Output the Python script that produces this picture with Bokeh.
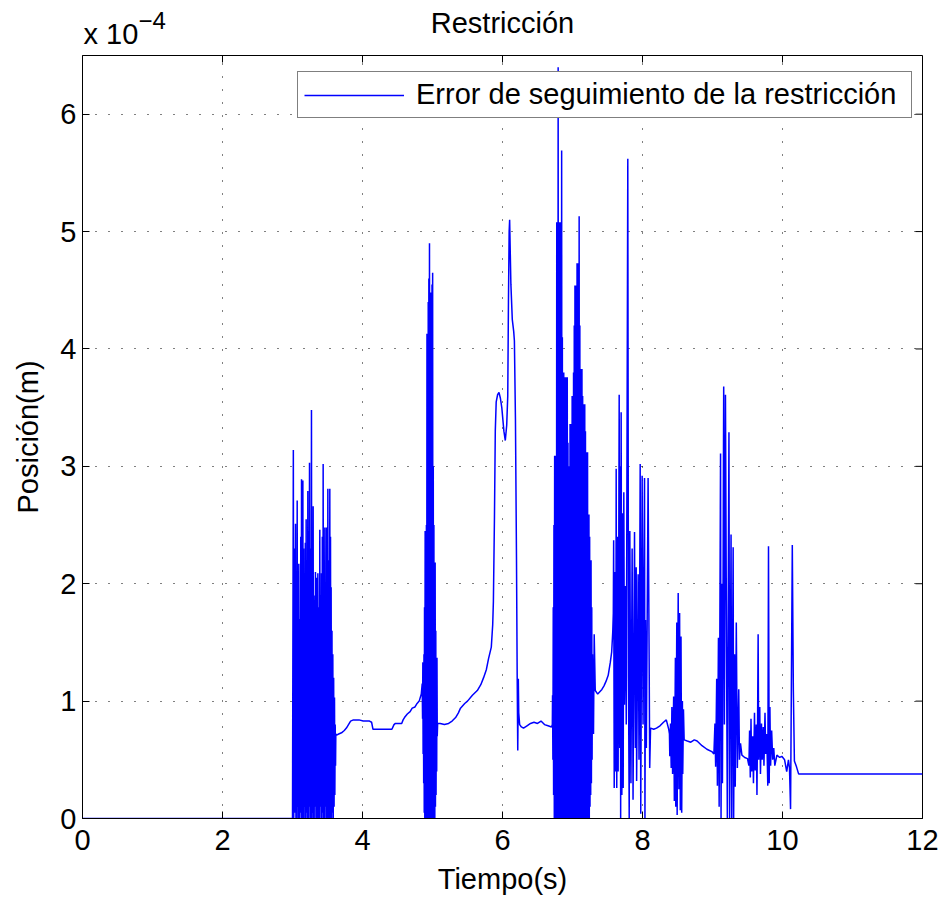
from bokeh.plotting import figure
from bokeh.layouts import column
from bokeh.models import Range1d, FixedTicker, Legend, LegendItem
from bokeh.core.properties import value
from bokeh.embed import file_html
from bokeh.resources import INLINE

FONT = "Liberation Sans"

title_text = "Restricción"
x_label = "Tiempo(s)"
y_label = "Posición(m)"
legend_label = "Error de seguimiento de la restricción"
x_ticks = [0, 2, 4, 6, 8, 10, 12]
y_ticks = [0, 1, 2, 3, 4, 5, 6]
x_limits = (0, 12)
y_limits = (0, 6.5)          # error in units of 1e-4 m
exp_base = "x 10"
exp_power = "−4"

# (time [s], tracking error [x 1e-4 m])
seg_rest = [(0.000, 0.00), (3.000, 0.00)]
burst1 = [(3.012, 3.14), (3.018, 0.00), (3.025, 2.30), (3.031, 0.05), (3.043, 2.51), (3.049, 0.00),
          (3.055, 1.90), (3.061, 0.00), (3.067, 2.71), (3.072, 0.10), (3.078, 2.00), (3.084, 0.00),
          (3.090, 2.17), (3.097, 0.00), (3.105, 1.70), (3.111, 0.05), (3.118, 2.40), (3.123, 0.00),
          (3.129, 2.89), (3.139, 0.00), (3.148, 2.88), (3.154, 0.00), (3.160, 2.30), (3.166, 0.10),
          (3.171, 2.00), (3.177, 0.00), (3.183, 2.35), (3.189, 0.00), (3.195, 2.55), (3.201, 0.05),
          (3.207, 2.20), (3.213, 0.00), (3.219, 2.79), (3.226, 0.00), (3.232, 2.45), (3.238, 0.10),
          (3.243, 3.03), (3.250, 0.00), (3.257, 2.30), (3.264, 0.00), (3.271, 3.48), (3.277, 0.00),
          (3.283, 2.20), (3.289, 0.05), (3.295, 2.66), (3.300, 0.00), (3.305, 1.90), (3.310, 0.00),
          (3.314, 1.86), (3.321, 0.10), (3.328, 2.10), (3.335, 0.00), (3.343, 2.05), (3.348, 0.00),
          (3.352, 1.70), (3.357, 0.05), (3.362, 2.09), (3.369, 0.00), (3.376, 1.80), (3.383, 0.00),
          (3.390, 2.46), (3.396, 0.10), (3.402, 1.90), (3.408, 0.00), (3.414, 2.09), (3.420, 0.00),
          (3.426, 2.40), (3.432, 0.05), (3.438, 3.02), (3.444, 0.00), (3.450, 2.20), (3.456, 0.00),
          (3.462, 2.48), (3.468, 0.10), (3.474, 2.00), (3.480, 0.00), (3.486, 2.48), (3.491, 0.00),
          (3.496, 2.10), (3.500, 0.05), (3.505, 2.81), (3.512, 0.00), (3.520, 2.20), (3.527, 0.00),
          (3.533, 2.81), (3.538, 0.10), (3.543, 2.40), (3.548, 0.00), (3.552, 1.97), (3.558, 0.00),
          (3.564, 1.60), (3.570, 0.05), (3.576, 1.40), (3.582, 0.00), (3.588, 1.20), (3.594, 0.10),
          (3.600, 1.03), (3.605, 0.20), (3.610, 0.80), (3.615, 0.45), (3.619, 0.72)]
base1 = [(3.630, 0.71), (3.660, 0.72), (3.700, 0.73), (3.740, 0.75), (3.770, 0.77), (3.800, 0.80),
         (3.830, 0.83), (3.870, 0.84), (3.950, 0.84), (4.010, 0.83), (4.100, 0.83), (4.130, 0.82),
         (4.150, 0.76), (4.250, 0.76), (4.420, 0.76), (4.450, 0.80), (4.470, 0.81), (4.560, 0.81),
         (4.580, 0.84), (4.600, 0.86), (4.640, 0.89), (4.680, 0.91), (4.710, 0.94), (4.750, 0.95),
         (4.780, 0.98), (4.810, 1.00), (4.840, 1.06)]
burst2 = [(4.853, 1.15), (4.858, 0.85), (4.862, 1.33), (4.866, 0.55), (4.870, 1.33), (4.874, 0.30),
          (4.878, 1.40), (4.882, 0.05), (4.886, 1.80), (4.890, 0.00), (4.895, 2.45), (4.899, 0.00),
          (4.904, 2.45), (4.908, 0.00), (4.913, 2.50), (4.917, 0.00), (4.921, 4.13), (4.925, 0.00),
          (4.930, 4.13), (4.934, 0.00), (4.939, 4.40), (4.943, 0.00), (4.948, 4.60), (4.952, 0.00),
          (4.957, 4.90), (4.961, 0.00), (4.966, 4.48), (4.970, 0.00), (4.975, 4.48), (4.979, 0.00),
          (4.984, 4.40), (4.988, 0.00), (4.993, 4.55), (4.997, 0.00), (5.002, 4.65), (5.006, 0.00),
          (5.011, 3.00), (5.015, 0.00), (5.020, 2.50), (5.024, 0.00), (5.029, 2.18), (5.033, 0.00),
          (5.038, 2.18), (5.042, 0.10), (5.047, 1.60), (5.051, 0.20), (5.056, 1.37), (5.060, 0.40),
          (5.064, 1.37), (5.068, 0.70), (5.073, 0.81)]
base2 = [(5.110, 0.81), (5.170, 0.80), (5.230, 0.81), (5.280, 0.83), (5.330, 0.86), (5.370, 0.90),
         (5.400, 0.94), (5.460, 0.98), (5.500, 1.00), (5.570, 1.05), (5.640, 1.09), (5.690, 1.14),
         (5.730, 1.20), (5.770, 1.27), (5.800, 1.36), (5.840, 1.46), (5.860, 1.65), (5.870, 1.85),
         (5.885, 2.56), (5.897, 3.30), (5.910, 3.55), (5.930, 3.61), (5.950, 3.63), (5.970, 3.58),
         (5.990, 3.50), (6.020, 3.30), (6.040, 3.22), (6.060, 3.35), (6.075, 3.60), (6.085, 4.40),
         (6.095, 5.00), (6.102, 5.10), (6.110, 4.85), (6.120, 4.55), (6.140, 4.25), (6.160, 4.15),
         (6.170, 4.07), (6.185, 3.40), (6.200, 2.20), (6.210, 1.20), (6.218, 0.58), (6.226, 1.19),
         (6.232, 0.90), (6.245, 0.80), (6.270, 0.78), (6.300, 0.77), (6.350, 0.79), (6.400, 0.81),
         (6.450, 0.82), (6.500, 0.81), (6.550, 0.83), (6.600, 0.80), (6.650, 0.79), (6.700, 0.78),
         (6.712, 0.80)]
burst3 = [(6.715, 1.05), (6.720, 0.50), (6.725, 1.80), (6.730, 0.20), (6.735, 2.50), (6.740, 0.00),
          (6.745, 3.09), (6.750, 0.00), (6.755, 3.09), (6.760, 0.10), (6.765, 3.09), (6.770, 0.00),
          (6.775, 5.08), (6.780, 0.00), (6.785, 5.08), (6.790, 0.00), (6.795, 6.40), (6.800, 0.00),
          (6.805, 5.08), (6.810, 0.00), (6.815, 5.08), (6.820, 0.10), (6.825, 4.60), (6.830, 0.00),
          (6.835, 5.08), (6.840, 0.00), (6.845, 5.69), (6.850, 0.00), (6.855, 4.10), (6.860, 0.00),
          (6.865, 3.80), (6.870, 0.10), (6.875, 3.80), (6.880, 0.00), (6.885, 3.76), (6.890, 0.00),
          (6.895, 3.76), (6.900, 0.00), (6.905, 3.60), (6.910, 0.05), (6.915, 3.76), (6.920, 0.00),
          (6.925, 3.76), (6.930, 0.00), (6.935, 3.20), (6.940, 0.00), (6.945, 2.79), (6.950, 0.10),
          (6.955, 3.00), (6.960, 0.00), (6.965, 3.36), (6.970, 0.00), (6.975, 3.36), (6.980, 0.00),
          (6.985, 3.30), (6.990, 0.05), (6.995, 3.60), (7.000, 0.00), (7.005, 3.60), (7.010, 0.00),
          (7.015, 3.80), (7.020, 0.00), (7.025, 4.20), (7.030, 0.10), (7.035, 4.54), (7.040, 0.00),
          (7.045, 4.54), (7.050, 0.00), (7.055, 4.40), (7.060, 0.00), (7.065, 4.73), (7.070, 0.05),
          (7.075, 4.73), (7.080, 0.00), (7.085, 4.60), (7.090, 0.00), (7.095, 5.13), (7.100, 0.00),
          (7.105, 4.20), (7.110, 0.10), (7.115, 3.83), (7.120, 0.00), (7.125, 3.83), (7.130, 0.00),
          (7.135, 3.83), (7.140, 0.00), (7.145, 3.60), (7.150, 0.05), (7.155, 3.53), (7.160, 0.00),
          (7.165, 3.53), (7.170, 0.00), (7.175, 3.53), (7.180, 0.00), (7.185, 3.30), (7.190, 0.10),
          (7.195, 3.12), (7.200, 0.00), (7.205, 3.12), (7.210, 0.00), (7.215, 3.12), (7.220, 0.00),
          (7.225, 2.59), (7.230, 0.05), (7.235, 2.59), (7.240, 0.00), (7.245, 2.40), (7.250, 0.10),
          (7.255, 2.20), (7.260, 0.20), (7.265, 2.20), (7.270, 0.30), (7.275, 1.80), (7.280, 0.50),
          (7.285, 1.40), (7.300, 0.72), (7.310, 1.57), (7.325, 1.09)]
base3 = [(7.360, 1.06), (7.390, 1.08), (7.420, 1.10), (7.450, 1.13), (7.480, 1.17), (7.510, 1.22),
         (7.540, 1.33), (7.560, 1.42), (7.575, 1.59), (7.583, 1.75)]
burst4 = [(7.588, 2.37), (7.596, 0.26), (7.610, 2.10), (7.618, 0.40), (7.624, 2.98), (7.632, 0.26),
          (7.645, 2.40), (7.652, 0.40), (7.667, 3.61), (7.675, 0.60), (7.684, 3.00), (7.688, 0.00),
          (7.695, 3.46), (7.705, 0.20), (7.718, 2.60), (7.724, 0.26), (7.733, 2.78), (7.742, 0.97),
          (7.757, 1.98), (7.768, 0.80), (7.790, 5.62), (7.800, 1.20), (7.810, 0.00), (7.819, 2.45),
          (7.835, 0.30), (7.852, 2.30), (7.865, 0.16), (7.886, 2.44), (7.898, 0.60), (7.910, 2.14),
          (7.916, 0.32), (7.938, 2.08), (7.950, 0.50), (7.967, 3.02), (7.975, 0.04), (7.995, 2.92),
          (8.008, 0.80), (8.029, 2.90), (8.035, 0.00), (8.043, 1.69), (8.055, 0.60), (8.080, 2.90),
          (8.095, 1.34), (8.103, 0.43), (8.115, 0.77)]
base4 = [(8.160, 0.76), (8.200, 0.77), (8.250, 0.79), (8.300, 0.82), (8.340, 0.84), (8.375, 0.76),
         (8.385, 0.72)]
burst5 = [(8.390, 0.53), (8.400, 0.81), (8.410, 0.43), (8.420, 0.95), (8.430, 0.38), (8.445, 1.04),
          (8.455, 0.15), (8.470, 1.37), (8.475, 0.10), (8.490, 1.67), (8.495, 0.03), (8.510, 1.92),
          (8.520, 0.25), (8.530, 1.75), (8.540, 0.07), (8.550, 1.55), (8.560, 0.05), (8.570, 1.00),
          (8.575, 0.38), (8.585, 0.93), (8.595, 0.67)]
base5 = [(8.640, 0.66), (8.690, 0.65), (8.740, 0.67), (8.780, 0.66), (8.850, 0.62), (8.920, 0.59),
         (8.990, 0.57), (9.020, 0.55)]
burst6 = [(9.035, 0.81), (9.045, 0.44), (9.060, 1.19), (9.070, 0.28), (9.085, 1.54), (9.095, 0.10),
          (9.115, 3.11), (9.122, 0.00), (9.135, 2.00), (9.142, 0.30), (9.160, 3.68), (9.170, 0.80),
          (9.185, 3.61), (9.200, 1.50), (9.212, 0.00), (9.235, 3.29), (9.245, 0.00), (9.265, 2.42),
          (9.275, 0.00), (9.295, 2.31), (9.302, 0.00), (9.315, 1.40), (9.325, 0.27), (9.340, 1.67),
          (9.355, 0.43), (9.375, 1.10), (9.385, 0.50), (9.400, 0.64)]
base6 = [(9.420, 0.54), (9.460, 0.52), (9.500, 0.51)]
burst7 = [(9.520, 0.45), (9.530, 0.75), (9.540, 0.35), (9.550, 0.85), (9.560, 0.40), (9.575, 0.70),
          (9.585, 0.30), (9.600, 0.90), (9.610, 0.41), (9.625, 0.80), (9.635, 0.20), (9.645, 0.90),
          (9.652, 1.57), (9.660, 0.50), (9.675, 0.95), (9.685, 0.38), (9.700, 0.81), (9.710, 0.50),
          (9.725, 0.78), (9.735, 0.45), (9.750, 0.90), (9.760, 0.55), (9.775, 0.72), (9.790, 0.28),
          (9.800, 2.32), (9.810, 0.30), (9.820, 0.95), (9.830, 0.45), (9.845, 0.75), (9.860, 0.50),
          (9.875, 0.60), (9.890, 0.45)]
tail = [(9.920, 0.54), (9.960, 0.52), (9.990, 0.53), (10.030, 0.50), (10.060, 0.40), (10.085, 0.50),
        (10.100, 0.43), (10.115, 0.08), (10.140, 2.33), (10.155, 1.09), (10.170, 0.49), (10.200, 0.44),
        (10.230, 0.38), (12.000, 0.38)]

segments = [seg_rest, burst1, base1, burst2, base2, burst3, base3, burst4, base4,
            burst5, base5, burst6, base6, burst7, tail]
t_s = [pt[0] for seg in segments for pt in seg]
err = [pt[1] for seg in segments for pt in seg]

# ---- layout constants (pixels) ----
W, HEAD_H, MAIN_H = 947, 54, 847
LEFT, RIGHT, BOTTOM = 82, 25, 83
FRAME_W = W - LEFT - RIGHT
FRAME_H = MAIN_H - 1 - BOTTOM
TICK_PX = 7

x_range = Range1d(*x_limits)
y_range = Range1d(*y_limits)

p = figure(width=W, height=MAIN_H, output_backend="svg", toolbar_location=None,
           x_range=x_range, y_range=y_range,
           min_border_left=LEFT, min_border_right=RIGHT, min_border_top=1, min_border_bottom=BOTTOM,
           background_fill_color="white", border_fill_color="white")
p.outline_line_color = "black"
p.outline_line_width = 1

line = p.line(t_s, err, line_color="#0000ff", line_width=1.5)

# inward ticks on the top and right edges of the box (MATLAB "box on")
dy = TICK_PX * (y_limits[1] - y_limits[0]) / FRAME_H
dx = TICK_PX * (x_limits[1] - x_limits[0]) / FRAME_W
p.segment(x0=x_ticks, y0=[y_limits[1]] * len(x_ticks), x1=x_ticks,
          y1=[y_limits[1] - dy] * len(x_ticks), line_color="black", line_width=1)
p.segment(x0=[x_limits[1]] * len(y_ticks), y0=y_ticks, x1=[x_limits[1] - dx] * len(y_ticks),
          y1=y_ticks, line_color="black", line_width=1)

p.xaxis.ticker = FixedTicker(ticks=x_ticks, minor_ticks=[])
p.yaxis.ticker = FixedTicker(ticks=y_ticks, minor_ticks=[])
for ax in (p.xaxis[0], p.yaxis[0]):
    ax.axis_line_color = "black"
    ax.axis_line_width = 1
    ax.major_tick_line_color = "black"
    ax.major_tick_in = TICK_PX
    ax.major_tick_out = 0
    ax.minor_tick_in = 0
    ax.minor_tick_out = 0
    ax.major_label_text_font = FONT
    ax.major_label_text_font_size = "29px"
    ax.major_label_text_color = "black"
    ax.axis_label_text_font = FONT
    ax.axis_label_text_font_size = "29px"
    ax.axis_label_text_font_style = "normal"
    ax.axis_label_text_color = "black"
p.xaxis[0].major_label_standoff = 11
p.xaxis[0].axis_label = x_label
p.xaxis[0].axis_label_standoff = 10
p.yaxis[0].major_label_standoff = 6
p.yaxis[0].axis_label = y_label
p.yaxis[0].axis_label_standoff = 13

p.xgrid.ticker = FixedTicker(ticks=x_ticks, minor_ticks=[])
p.ygrid.ticker = FixedTicker(ticks=y_ticks, minor_ticks=[])
for g in (p.xgrid, p.ygrid):
    g.grid_line_color = "black"
    g.grid_line_width = 1
    g.grid_line_dash = "1 12"
    g.grid_line_alpha = 1.0

legend = Legend(items=[LegendItem(label=legend_label, renderers=[line])],
                location=(215, 700), orientation="vertical")
legend.label_text_font = FONT
legend.label_text_font_size = "29px"
legend.label_text_color = "black"
legend.glyph_width = 100
legend.glyph_height = 20
legend.label_standoff = 12
legend.label_width = 489
legend.padding = 6
legend.spacing = 0
legend.margin = 0
legend.border_line_color = "black"
legend.border_line_width = 1
legend.background_fill_color = "white"
legend.background_fill_alpha = 1.0
p.add_layout(legend)

# ---- header strip: title and the x10^-4 multiplier, sharing the x scale ----
head = figure(width=W, height=HEAD_H, output_backend="svg", toolbar_location=None,
              x_range=x_range, y_range=Range1d(0, HEAD_H),
              x_axis_type=None, y_axis_type=None,
              min_border_left=LEFT, min_border_right=RIGHT, min_border_top=0, min_border_bottom=0,
              background_fill_color="white", border_fill_color="white")
head.outline_line_color = None
head.grid.visible = False
x_mid = (x_limits[0] + x_limits[1]) / 2
head.text(x=[x_mid], y=[32], text=[title_text], text_font=value(FONT), text_font_size="29px",
          text_align="center", text_baseline="alphabetic", text_color="black")
head.text(x=[x_limits[0]], y=[21], text=[exp_base], text_font=value(FONT), text_font_size="29px",
          text_align="left", text_baseline="alphabetic", text_color="black", x_offset=1)
head.text(x=[x_limits[0]], y=[34], text=[exp_power], text_font=value(FONT), text_font_size="24px",
          text_align="left", text_baseline="alphabetic", text_color="black", x_offset=56)

layout = column(head, p, spacing=0)
open("out.html", "w").write(file_html(layout, INLINE))
